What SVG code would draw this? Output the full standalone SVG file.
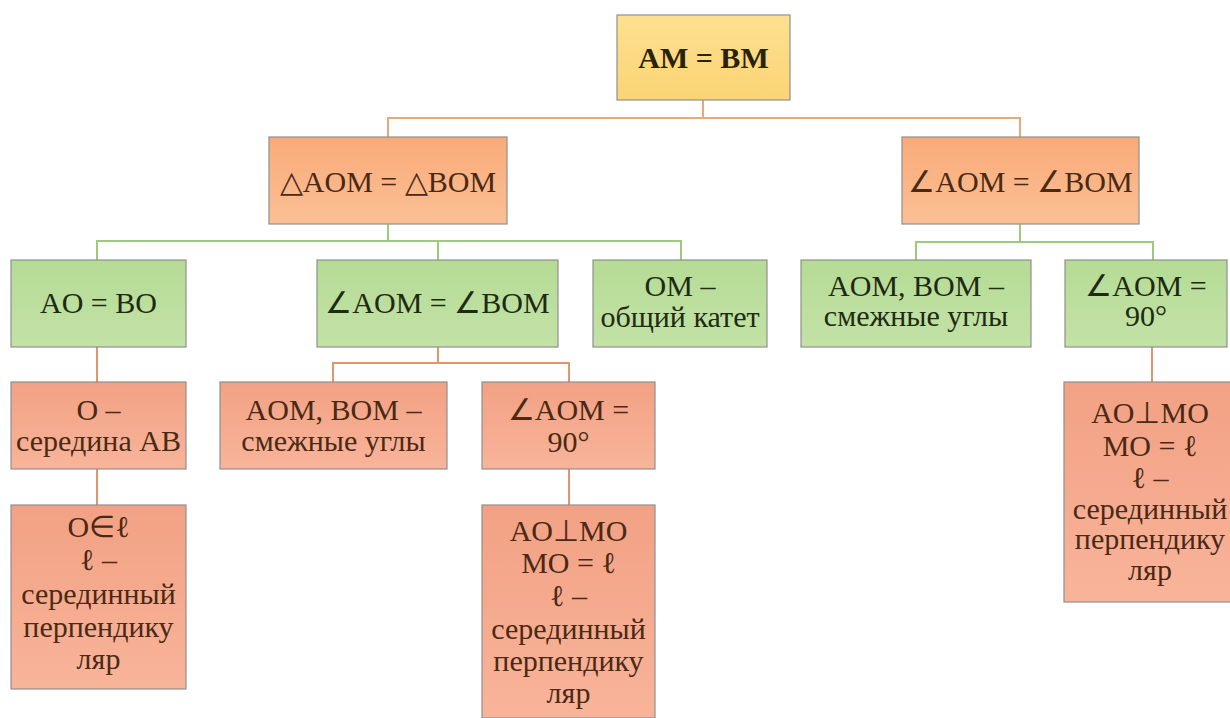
<svg xmlns="http://www.w3.org/2000/svg" width="1230" height="718" viewBox="0 0 1230 718">
<defs>
<linearGradient id="gGold" x1="0" y1="0" x2="0" y2="1"><stop offset="0" stop-color="#fde090"/><stop offset="1" stop-color="#fbd475"/></linearGradient>
<linearGradient id="gOrange" x1="0" y1="0" x2="0" y2="1"><stop offset="0" stop-color="#f9aa79"/><stop offset="1" stop-color="#fbc095"/></linearGradient>
<linearGradient id="gGreen" x1="0" y1="0" x2="0" y2="1"><stop offset="0" stop-color="#b5db95"/><stop offset="1" stop-color="#c3e2a6"/></linearGradient>
<linearGradient id="gSalmon" x1="0" y1="0" x2="0" y2="1"><stop offset="0" stop-color="#f2a184"/><stop offset="1" stop-color="#f8b49a"/></linearGradient>
</defs>
<style>
.box{stroke:#8f8f8f;stroke-width:1.2}
.gold{fill:url(#gGold)}
.orange{fill:url(#gOrange)}
.green{fill:url(#gGreen)}
.salmon{fill:url(#gSalmon)}
text{font-family:'Liberation Serif','Times New Roman',serif;font-size:30px;text-anchor:middle}
.tb{font-weight:bold;fill:#2a2208}
.to{fill:#4a2a14}
.tg{fill:#1e2a12}
.cO{stroke:#e8a97c;stroke-width:2;fill:none}
.cG{stroke:#9ccb7c;stroke-width:2;fill:none}
.cS{stroke:#e0956c;stroke-width:2;fill:none}
</style>
<rect width="1230" height="718" fill="#ffffff"/>
<g id="connectors">
<path class="cO" d="M703 100V118M388 137V118H1020V137"/>
<path class="cG" d="M388 224V241M97 260V241H681V260M438 241V260"/>
<path class="cG" d="M1020 224V242M916 260V242H1153V260"/>
<path class="cS" d="M97 347V382M438 347V363M333 382V363H569V382"/>
<path class="cS" d="M97 469V505M569 469V505M1152 347V382"/>
</g>
<g id="n_am_bm"><rect class="box gold" x="617" y="15" width="173" height="85"/><text class="tb" x="703.5" y="68">AM = BM</text></g>
<g id="n_tri"><rect class="box orange" x="269" y="137" width="238" height="87"/><text class="to" x="388" y="192">△AOM = △BOM</text></g>
<g id="n_ang_top"><rect class="box orange" x="902" y="137" width="237" height="87"/><text class="to" x="1020.5" y="192">∠AOM = ∠BOM</text></g>
<g id="n_ao_bo"><rect class="box green" x="11" y="260" width="175" height="87"/><text class="tg" x="98.5" y="313">AO = BO</text></g>
<g id="n_ang_mid"><rect class="box green" x="317" y="260" width="241" height="87"/><text class="tg" x="437.5" y="313">∠AOM = ∠BOM</text></g>
<g id="n_om"><rect class="box green" x="593" y="260" width="174" height="87"/><text class="tg" x="680" y="296">OM –</text><text class="tg" x="680" y="327">общий катет</text></g>
<g id="n_adj_r"><rect class="box green" x="801" y="260" width="230" height="87"/><text class="tg" x="916" y="296">AOM, BOM –</text><text class="tg" x="916" y="326">смежные углы</text></g>
<g id="n_90_r"><rect class="box green" x="1065" y="260" width="162" height="87"/><text class="tg" x="1146" y="296">∠AOM =</text><text class="tg" x="1146" y="326">90°</text></g>
<g id="n_mid_ab"><rect class="box salmon" x="11" y="382" width="175" height="87"/><text class="to" x="98.5" y="420">O –</text><text class="to" x="98.5" y="451">середина AB</text></g>
<g id="n_adj_m"><rect class="box salmon" x="220" y="382" width="227" height="87"/><text class="to" x="333.5" y="420">AOM, BOM –</text><text class="to" x="333.5" y="451">смежные углы</text></g>
<g id="n_90_m"><rect class="box salmon" x="482" y="382" width="173" height="87"/><text class="to" x="568.5" y="420">∠AOM =</text><text class="to" x="568.5" y="452">90°</text></g>
<g id="n_perp_l"><rect class="box salmon" x="11" y="505" width="175" height="184"/><text class="to" x="98.5" y="537">O∈ℓ</text><text class="to" x="98.5" y="570">ℓ –</text><text class="to" x="98.5" y="604">серединный</text><text class="to" x="98.5" y="637">перпендику</text><text class="to" x="98.5" y="669">ляр</text></g>
<g id="n_perp_m"><rect class="box salmon" x="482" y="505" width="173" height="213"/><text class="to" x="568.5" y="541">AO⊥MO</text><text class="to" x="568.5" y="573">MO = ℓ</text><text class="to" x="568.5" y="606">ℓ –</text><text class="to" x="568.5" y="639">серединный</text><text class="to" x="568.5" y="671">перпендику</text><text class="to" x="568.5" y="703">ляр</text></g>
<g id="n_perp_r"><rect class="box salmon" x="1064" y="382" width="172" height="220"/><text class="to" x="1150" y="423">AO⊥MO</text><text class="to" x="1150" y="456">MO = ℓ</text><text class="to" x="1150" y="488">ℓ –</text><text class="to" x="1150" y="519">серединный</text><text class="to" x="1150" y="549">перпендику</text><text class="to" x="1150" y="580">ляр</text></g>
</svg>
